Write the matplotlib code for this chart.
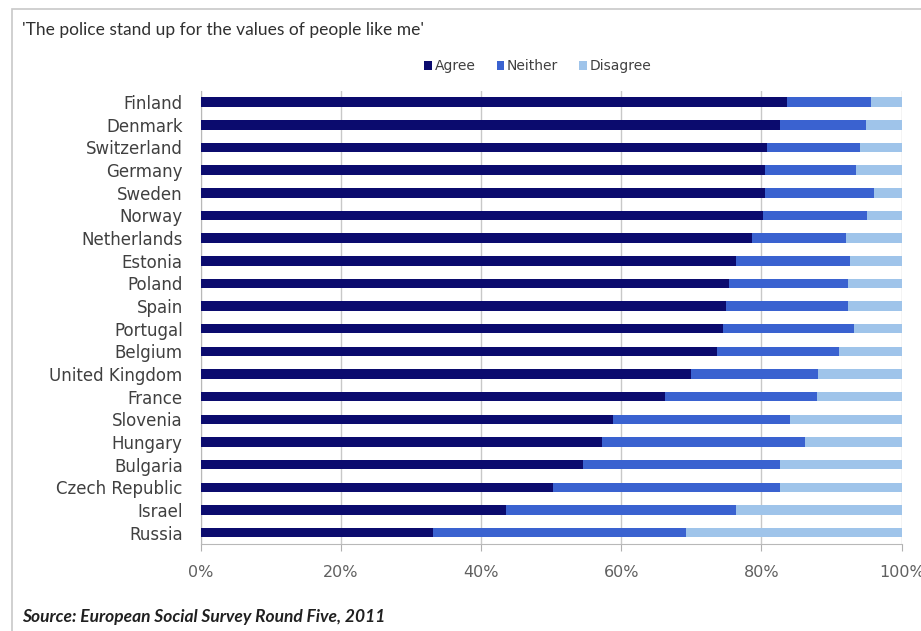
import matplotlib.pyplot as plt
from matplotlib.patches import Rectangle
import numpy as np

countries = ["Finland", "Denmark", "Switzerland", "Germany", "Sweden", "Norway",
             "Netherlands", "Estonia", "Poland", "Spain", "Portugal", "Belgium",
             "United Kingdom", "France", "Slovenia", "Hungary", "Bulgaria",
             "Czech Republic", "Israel", "Russia"]
agree = [83.7, 82.6, 80.8, 80.5, 80.5, 80.2, 78.7, 76.3, 75.4, 74.9, 74.5, 73.7,
         70.0, 66.3, 58.8, 57.2, 54.5, 50.3, 43.6, 33.1]
neither = [11.9, 12.3, 13.3, 13.0, 15.6, 14.9, 13.3, 16.4, 16.9, 17.4, 18.7, 17.4,
           18.1, 21.6, 25.2, 29.0, 28.1, 32.3, 32.7, 36.1]
disagree = [100 - a - n for a, n in zip(agree, neither)]

c_agree = "#0b0b6e"
c_neither = "#3a62d0"
c_disagree = "#9fc4ea"

plt.rcParams['font.family'] = ['DejaVu Sans']

fig = plt.figure(figsize=(9.21, 6.31), dpi=100)
ax = fig.add_axes([0.218, 0.138, 0.761, 0.718])

y = np.arange(len(countries))
h = 0.42
ax.barh(y, agree, height=h, color=c_agree, label="Agree", zorder=3)
ax.barh(y, neither, left=agree, height=h, color=c_neither, label="Neither", zorder=3)
left2 = [a + n for a, n in zip(agree, neither)]
ax.barh(y, disagree, left=left2, height=h, color=c_disagree, label="Disagree", zorder=3)

ax.set_ylim(len(countries) - 0.5, -0.5)
ax.set_xlim(0, 100)
ax.set_yticks(y)
ax.set_yticklabels(countries, fontsize=12, color="#404040")
ax.set_xticks(range(0, 101, 20))
ax.set_xticklabels([f"{v}%" for v in range(0, 101, 20)], fontsize=11.5, color="#606060")
ax.tick_params(axis='y', length=0, pad=13)
ax.tick_params(axis='x', length=5, color="#b0b0b0", pad=10)
ax.grid(axis='x', color="#c8c8c8", linewidth=1, zorder=0)
for s in ['top', 'right']:
    ax.spines[s].set_visible(False)
for s in ['left', 'bottom']:
    ax.spines[s].set_color("#b8b8b8")

fig.legend(loc='center', bbox_to_anchor=(0.584, 0.895), ncol=3, frameon=False,
           fontsize=10, handlelength=0.55, handleheight=0.55, handletextpad=0.2,
           columnspacing=1.5, labelcolor="#404040")

fig.text(0.024, 0.952, "'The police stand up for the values of people like me'",
         fontsize=12.5, color="#303030", va='center', family=['Lato', 'DejaVu Sans'])
fig.text(0.024, 0.022, "Source: European Social Survey Round Five, 2011",
         fontsize=12.5, color="#202020", fontweight='bold', fontstyle='italic',
         va='center', family=['Lato', 'DejaVu Sans'])

fig.patches.append(Rectangle((0.013, -0.01), 1.0, 0.995, transform=fig.transFigure,
                             fill=False, edgecolor="#c8c8c8", linewidth=1.2))

fig.savefig("out.png", dpi=100)
